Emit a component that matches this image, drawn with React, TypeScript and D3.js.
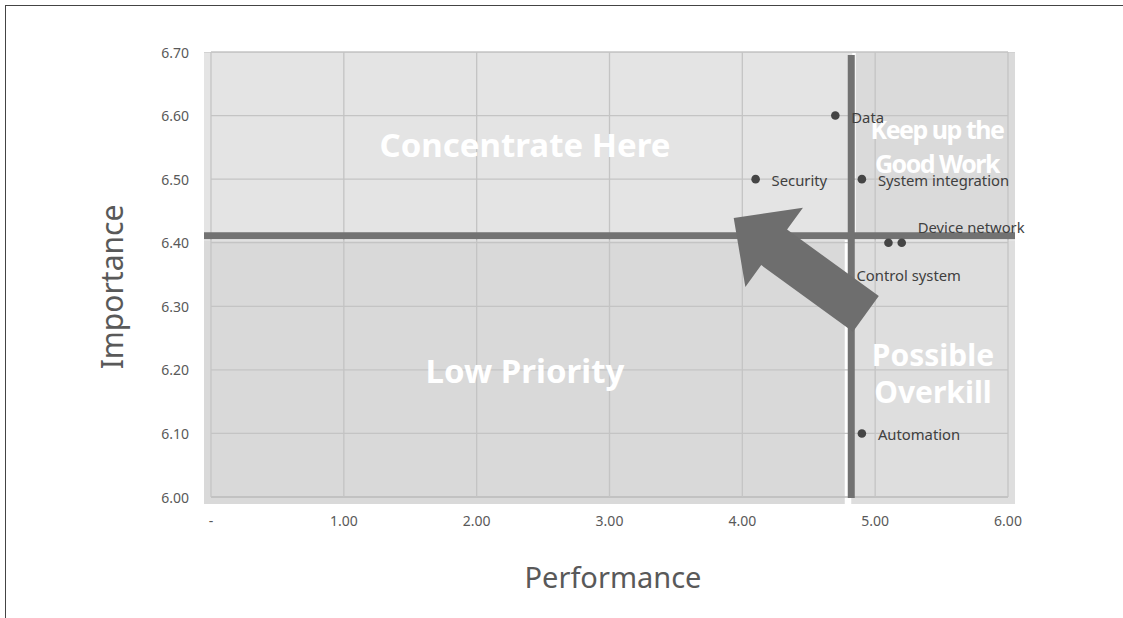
import React from "react";
import * as d3 from "d3";

const labels = ["Data", "Security", "System integration", "Device network", "Control system", "Automation"];
const performance = [4.7, 4.1, 4.9, 5.2, 5.1, 4.9];
const importance = [6.6, 6.5, 6.5, 6.4, 6.4, 6.1];
const labelPlacement = ["right", "right", "right", "aboveRight", "below", "right"];

// quadrant divider values
const performanceDivider = 4.82;
const importanceDivider = 6.411;

const xTicks = [0, 1, 2, 3, 4, 5, 6];
const xTickLabels = ["-", "1.00", "2.00", "3.00", "4.00", "5.00", "6.00"];
const yTicks = [6.0, 6.1, 6.2, 6.3, 6.4, 6.5, 6.6, 6.7];
const yTickLabels = ["6.00", "6.10", "6.20", "6.30", "6.40", "6.50", "6.60", "6.70"];

// arrow annotation (data units): from base to tip
const arrowFrom = [4.93, 6.288];
const arrowTo = [3.935, 6.439];

const W = 1123;
const H = 618;
const FONT = "'Noto Sans', 'Open Sans', sans-serif";

export default function App() {
  const x = d3.scaleLinear().domain([0, 6]).range([211, 1008]);
  const y = d3.scaleLinear().domain([6.0, 6.7]).range([497, 52]);

  const mx = x(performanceDivider);
  const my = y(importanceDivider);

  const left = x(0) - 7;
  const right = x(6) + 7;
  const top = y(6.7);
  const bottom = y(6.0) + 7;

  // arrow geometry
  const bx = x(arrowFrom[0]);
  const by = y(arrowFrom[1]);
  const tx = x(arrowTo[0]);
  const ty = y(arrowTo[1]);
  const dx = tx - bx;
  const dy = ty - by;
  const len = Math.hypot(dx, dy);
  const ux = dx / len;
  const uy = dy / len;
  const px = -uy;
  const py = ux;
  const shaftHalf = 22;
  const headHalf = 49;
  const headLen = 50;
  const hx = tx - ux * headLen;
  const hy = ty - uy * headLen;
  const arrowPts = [
    [bx + px * shaftHalf, by + py * shaftHalf],
    [hx + px * shaftHalf, hy + py * shaftHalf],
    [hx + px * headHalf, hy + py * headHalf],
    [tx, ty],
    [hx - px * headHalf, hy - py * headHalf],
    [hx - px * shaftHalf, hy - py * shaftHalf],
    [bx - px * shaftHalf, by - py * shaftHalf],
  ];

  const labelPos = (i: number) => {
    const cx = x(performance[i]);
    const cy = y(importance[i]);
    const p = labelPlacement[i];
    if (p === "aboveRight") return { lx: cx + 16, ly: cy - 16 };
    if (p === "below") return { lx: cx - 32, ly: cy + 32 };
    return { lx: cx + 16, ly: cy + 1 };
  };

  const gridColor = "#c4c4c4";
  const labelColor = "#595959";

  return (
    <svg width={W} height={H} style={{ position: "absolute", left: 0, top: 0, background: "#fff" }}>
      {/* outer frame */}
      <line x1={5.5} y1={5} x2={5.5} y2={H} stroke="#444" strokeWidth={1} />
      <line x1={5} y1={5.5} x2={W} y2={5.5} stroke="#444" strokeWidth={1} />

      {/* quadrant backgrounds */}
      <rect x={left} y={top} width={mx + 1 - left} height={my - top} fill="#e4e4e4" />
      <rect x={left} y={my + 4.5} width={mx - 6.5 - left} height={bottom - my - 4.5} fill="#d9d9d9" />
      <rect x={mx + 4.5} y={top} width={right - mx - 4.5} height={my - top} fill="#dadada" />
      <rect x={mx} y={my + 4.5} width={right - mx} height={bottom - my - 4.5} fill="#dedede" />
      <line x1={left} x2={right} y1={top + 0.5} y2={top + 0.5} stroke="#d2d2d2" />

      {/* gridlines */}
      {yTicks.map((t) => (
        <line key={"gy" + t} x1={x(0)} x2={x(6)} y1={y(t)} y2={y(t)} stroke={t === 6.0 ? "#bababa" : gridColor} strokeWidth={1.3} />
      ))}
      {xTicks.map((t) => (
        <line key={"gx" + t} x1={x(t)} x2={x(t)} y1={y(6.7)} y2={y(6.0)} stroke={gridColor} strokeWidth={1.3} />
      ))}

      {/* divider lines */}
      <line x1={left} x2={right} y1={my} y2={my} stroke="#727272" strokeWidth={7} />
      <line x1={mx} x2={mx} y1={top + 3} y2={y(6.0) + 1} stroke="#727272" strokeWidth={7} />

      {/* quadrant labels */}
      <g fill="#ffffff" fontFamily={FONT} fontWeight="bold" textAnchor="middle">
        <text x={525} y={157} fontSize={33}>Concentrate Here</text>
        <text x={525} y={383} fontSize={33}>Low Priority</text>
        <text x={937} y={139} fontSize={25} letterSpacing={-1.5}>Keep up the</text>
        <text x={937} y={172.5} fontSize={25} letterSpacing={-1.5}>Good Work</text>
        <text x={933} y={366} fontSize={30}>Possible</text>
        <text x={933} y={403} fontSize={30}>Overkill</text>
      </g>

      {/* arrow */}
      <polygon points={arrowPts.map((p) => p.join(",")).join(" ")} fill="#6e6e6e" />

      {/* points */}
      {performance.map((v, i) => (
        <circle key={"pt" + i} cx={x(v)} cy={y(importance[i])} r={4.3} fill="#454545" />
      ))}
      {labels.map((l, i) => {
        const { lx, ly } = labelPos(i);
        return (
          <text key={"lb" + i} x={lx} y={ly} fontFamily={FONT} fontSize={14.8} fill="#404040" dominantBaseline="central">
            {l}
          </text>
        );
      })}

      {/* tick labels */}
      {yTicks.map((t, i) => (
        <text key={"ty" + t} x={189} y={y(t)} textAnchor="end" dominantBaseline="central" fontFamily={FONT} fontSize={14} fill={labelColor}>
          {yTickLabels[i]}
        </text>
      ))}
      {xTicks.map((t, i) => (
        <text key={"tx" + t} x={x(t)} y={520} textAnchor="middle" dominantBaseline="central" fontFamily={FONT} fontSize={14} fill={labelColor}>
          {xTickLabels[i]}
        </text>
      ))}

      {/* axis titles */}
      <text x={613} y={588} textAnchor="middle" fontFamily={FONT} fontSize={29} fill={labelColor}>
        Performance
      </text>
      <text transform={`translate(123,287) rotate(-90)`} textAnchor="middle" fontFamily={FONT} fontSize={30} fill={labelColor}>
        Importance
      </text>
    </svg>
  );
}
